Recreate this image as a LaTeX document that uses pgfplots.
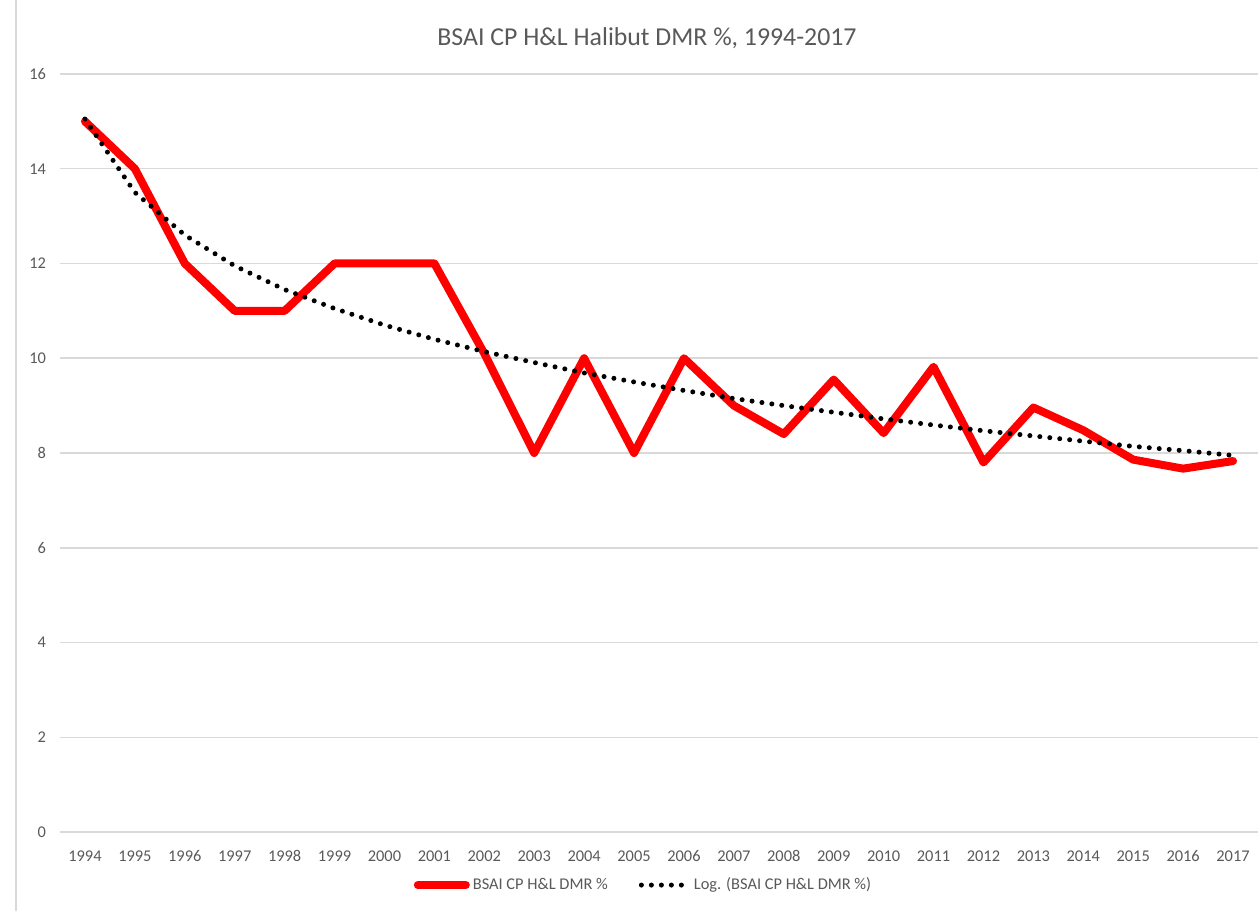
\documentclass[border=0pt]{standalone}
\usepackage{fontspec}
\setmainfont{Carlito}
\usepackage{pgfplots}
\pgfplotsset{compat=1.18}
\definecolor{txt}{HTML}{595959}
\definecolor{gridc}{HTML}{D9D9D9}
\definecolor{redl}{HTML}{FF0000}
\pgfplotsset{
  longline/.style={legend image code/.code={\draw[##1] (0pt,0pt) -- (24pt,0pt);}},
  dotline/.style={legend image code/.code={\draw[##1] (0pt,0pt) -- (20pt,0pt); \path (23.5pt,0pt);}},
}
\begin{document}
\begin{tikzpicture}
\path[use as bounding box] (-30pt,-39.5pt) rectangle (599pt,416pt);
\draw[gridc, line width=0.75pt] (-22pt,-39.5pt) -- (-22pt,416pt);
\begin{axis}[at={(0pt,0pt)}, anchor=south west, scale only axis,
  width=599pt, height=379pt,
  xmin=-0.5, xmax=23.5, ymin=0, ymax=16,
  ytick={0,2,...,16},
  xtick={0,...,23},
  xticklabels={1994,1995,1996,1997,1998,1999,2000,2001,2002,2003,2004,2005,2006,2007,2008,2009,2010,2011,2012,2013,2014,2015,2016,2017},
  axis line style={draw=none}, tick style={draw=none},
  ymajorgrids, grid style={gridc, line width=0.75pt},
  /pgf/number format/assume math mode=true,
  ticklabel style={font=\fontsize{8.2}{9}\selectfont, text=txt},
  yticklabel style={xshift=-3.5pt},
  xticklabel style={yshift=-5pt, text height=6pt, text depth=1pt},
  legend style={draw=none, at={(0.4875,-0.07)}, anchor=center, legend columns=2,
    font=\fontsize{8.2}{9}\selectfont, text=txt, column sep=0pt,
    /tikz/every even column/.append style={column sep=14pt},
    nodes={inner xsep=1.5pt}},
  clip=false,
]
\addplot[redl, line width=4pt, line join=round, line cap=round, longline]
  coordinates {
  (0,15) (1,14) (2,12) (3,11) (4,11) (5,12) (6,12) (7,12) (8,10.1) (9,8)
  (10,10) (11,8) (12,10) (13,9) (14,8.4) (15,9.55) (16,8.42) (17,9.82)
  (18,7.8) (19,8.96) (20,8.48) (21,7.86) (22,7.67) (23,7.83)};
\addlegendentry{BSAI CP H\&L DMR \%}
\addplot[black, line width=2.5pt, line cap=round, dash pattern=on 0pt off 5pt, dotline]
  coordinates {
  (0,15.05) (1,13.50) (2,12.60) (3,11.95) (4,11.45) (5,11.05) (6,10.70)
  (7,10.40) (8,10.14) (9,9.91) (10,9.69) (11,9.50) (12,9.32) (13,9.15)
  (14,9.00) (15,8.86) (16,8.72) (17,8.59) (18,8.47) (19,8.36) (20,8.25)
  (21,8.14) (22,8.05) (23,7.95)};
\addlegendentry{Log. (BSAI CP H\&L DMR \%)}
\end{axis}
\node[text=txt, font=\fontsize{12.9}{15}\selectfont] at (293.5pt,397pt) {BSAI CP H\&L Halibut DMR \%, 1994-2017};
\end{tikzpicture}
\end{document}
